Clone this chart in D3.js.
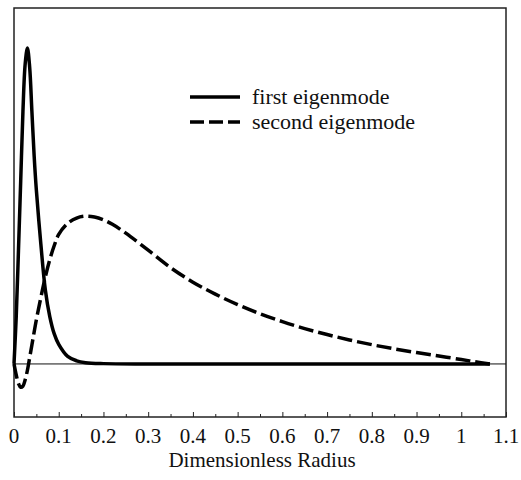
<!DOCTYPE html>
<html>
<head>
<meta charset="utf-8">
<script src="https://cdn.jsdelivr.net/npm/d3@7"></script>
<style>
  html, body { margin: 0; padding: 0; background: #fff; }
  svg { display: block; }
</style>
</head>
<body>
<svg id="chart" width="521" height="480"></svg>
<script>
// Dimensionless radius samples and normalized eigenmode amplitudes
const radiusFirst = [0, 0.005, 0.01, 0.015, 0.02, 0.025, 0.03, 0.035, 0.04, 0.045, 0.05, 0.06, 0.07, 0.08, 0.09, 0.1, 0.12, 0.14, 0.16, 0.2, 0.3, 0.5, 0.7, 0.9, 1.064];
const firstMode   = [0, 0.15, 0.36, 0.58, 0.80, 0.95, 1.0, 0.94, 0.80, 0.66, 0.55, 0.38, 0.235, 0.15, 0.095, 0.062, 0.024, 0.01, 0.004, 0.001, 0, 0, 0, 0, 0];

const radiusSecond = [0, 0.005, 0.01, 0.015, 0.02, 0.025, 0.03, 0.035, 0.04, 0.05, 0.06, 0.07, 0.08, 0.09, 0.1, 0.12, 0.14, 0.16, 0.18, 0.2, 0.22, 0.25, 0.3, 0.35, 0.4, 0.45, 0.5, 0.55, 0.6, 0.65, 0.7, 0.75, 0.8, 0.85, 0.9, 0.95, 1.0, 1.03, 1.064];
const secondMode   = [0, -0.035, -0.062, -0.074, -0.07, -0.05, -0.02, 0.02, 0.06, 0.14, 0.21, 0.275, 0.33, 0.375, 0.41, 0.445, 0.462, 0.468, 0.465, 0.456, 0.442, 0.414, 0.36, 0.305, 0.259, 0.221, 0.188, 0.159, 0.134, 0.112, 0.093, 0.076, 0.061, 0.048, 0.036, 0.025, 0.014, 0.007, 0];

const majorTicks = [0, 0.1, 0.2, 0.3, 0.4, 0.5, 0.6, 0.7, 0.8, 0.9, 1, 1.1];
const minorTicks = [0.05, 0.15, 0.25, 0.35, 0.45, 0.55, 0.65, 0.75, 0.85, 0.95, 1.05];
const legendLabels = ["first eigenmode", "second eigenmode"];
const xTitle = "Dimensionless Radius";

const serif = '"Liberation Serif"';

const svg = d3.select("#chart");
const plotLeft = 14, plotRight = 506, plotTop = 8, plotBottom = 417;

const x = d3.scaleLinear().domain([0, 1.1]).range([plotLeft, plotRight]);
const y = d3.scaleLinear().domain([-0.168, 1.127]).range([plotBottom, plotTop]);

// Frame
svg.append("rect")
  .attr("x", plotLeft).attr("y", plotTop)
  .attr("width", plotRight - plotLeft).attr("height", plotBottom - plotTop)
  .attr("fill", "none").attr("stroke", "#222").attr("stroke-width", 1.5);

// Zero reference line
svg.append("line")
  .attr("x1", x(0)).attr("x2", x(1.1))
  .attr("y1", y(0)).attr("y2", y(0))
  .attr("stroke", "#111").attr("stroke-width", 1);

// Bottom axis: inward ticks, labels drawn separately
const axis = svg.append("g").attr("transform", `translate(0,${plotBottom})`);
axis.call(d3.axisBottom(x).tickValues(majorTicks).tickSizeInner(-5).tickSizeOuter(0).tickFormat(""));
axis.select(".domain").remove();
axis.selectAll(".tick line").attr("stroke", "#222").attr("stroke-width", 1);

const minorAxis = svg.append("g").attr("transform", `translate(0,${plotBottom})`);
minorAxis.call(d3.axisBottom(x).tickValues(minorTicks).tickSizeInner(-3).tickSizeOuter(0).tickFormat(""));
minorAxis.select(".domain").remove();
minorAxis.selectAll(".tick line").attr("stroke", "#222").attr("stroke-width", 1);

svg.append("g").selectAll("text")
  .data(majorTicks)
  .join("text")
  .attr("x", d => x(d))
  .attr("y", 443)
  .attr("text-anchor", "middle")
  .style("font-family", serif)
  .style("font-size", "21px")
  .attr("fill", "#111")
  .text(d => d3.format("~g")(d));

svg.append("text")
  .attr("x", (plotLeft + plotRight) / 2 + 2)
  .attr("y", 467)
  .attr("text-anchor", "middle")
  .style("font-family", serif)
  .style("font-size", "21px")
  .attr("fill", "#111")
  .text(xTitle);

// Curves
const line = d3.line()
  .x(d => x(d[0]))
  .y(d => y(d[1]))
  .curve(d3.curveCatmullRom.alpha(0.5));

svg.append("path")
  .datum(d3.zip(radiusSecond, secondMode))
  .attr("d", line)
  .attr("fill", "none")
  .attr("stroke", "#000")
  .attr("stroke-width", 3.5)
  .attr("stroke-dasharray", "15,5");

svg.append("path")
  .datum(d3.zip(radiusFirst, firstMode))
  .attr("d", line)
  .attr("fill", "none")
  .attr("stroke", "#000")
  .attr("stroke-width", 3.5)
  .attr("stroke-linejoin", "round");

// Legend
const legend = svg.append("g");
const legendRows = [
  { label: legendLabels[0], dash: null, y: 97 },
  { label: legendLabels[1], dash: "14,5", y: 122 }
];
legendRows.forEach(r => {
  legend.append("line")
    .attr("x1", 190).attr("x2", 240)
    .attr("y1", r.y).attr("y2", r.y)
    .attr("stroke", "#000").attr("stroke-width", 3.5)
    .attr("stroke-dasharray", r.dash);
  legend.append("text")
    .attr("x", 252).attr("y", r.y + 7)
    .style("font-family", serif)
    .style("font-size", "22px")
    .attr("fill", "#111")
    .text(r.label);
});
</script>
</body>
</html>
